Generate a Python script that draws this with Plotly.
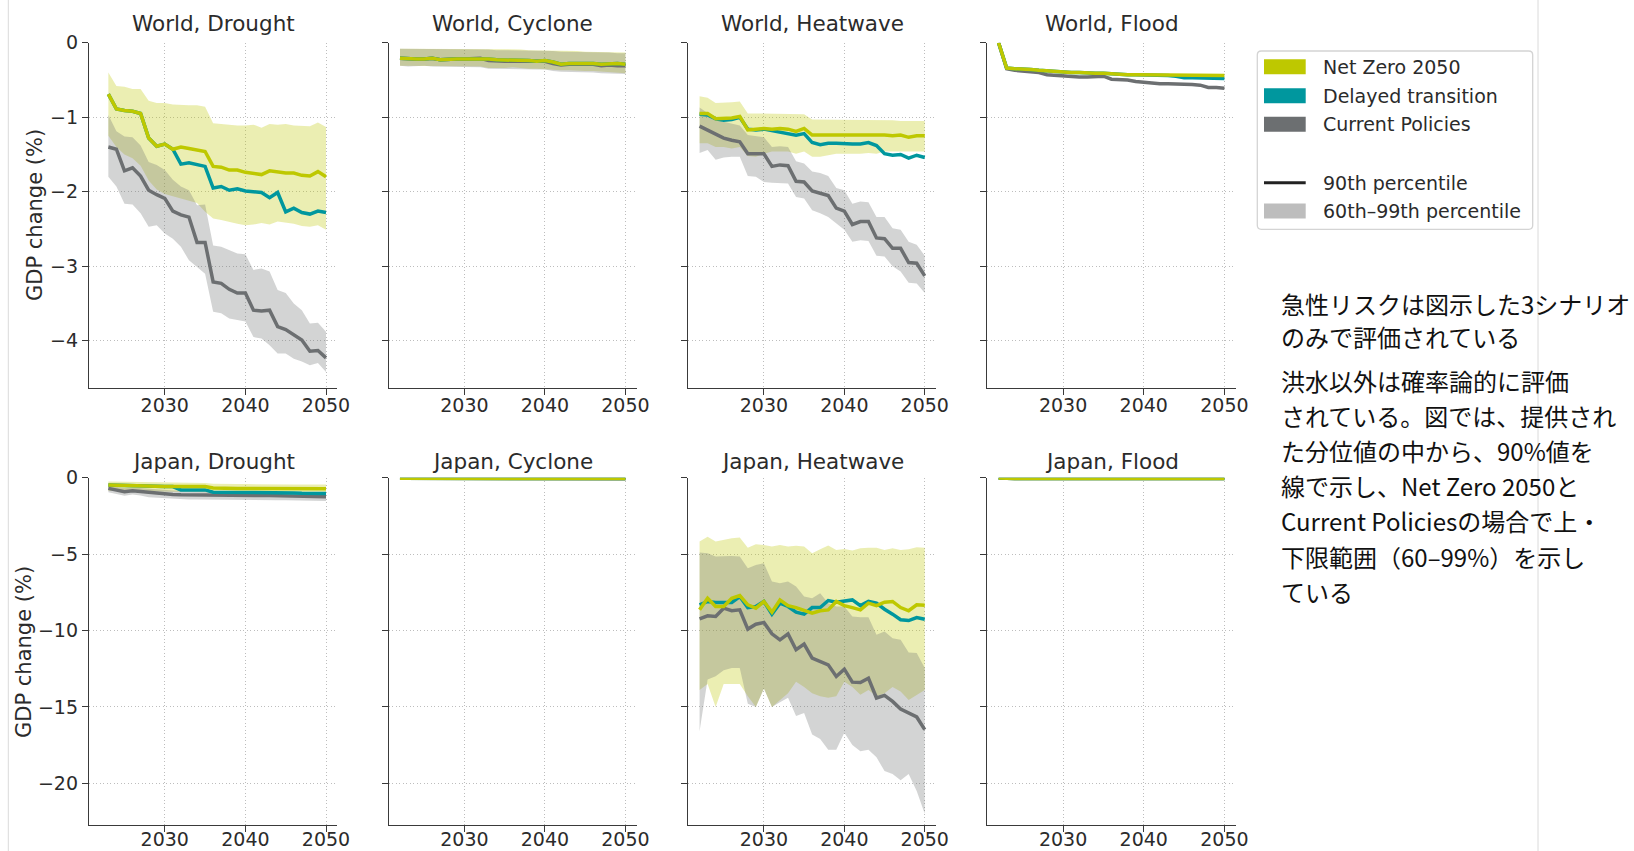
import plotly.graph_objects as go

W, H = 1634, 851

# ---------------- data ----------------
years_full = [2022, 2023, 2024, 2025, 2026, 2027, 2028, 2029, 2030, 2031, 2032, 2033, 2034, 2035,
              2036, 2037, 2038, 2039, 2040, 2041, 2042, 2043, 2044, 2045, 2046, 2047, 2048, 2049, 2050]
years_late = years_full[1:]

x_ticks = [2030, 2040, 2050]
y_ticks_top = [0, -1, -2, -3, -4]
y_ticks_bottom = [0, -5, -10, -15, -20]
y_tick_text_top = ["0", "\u22121", "\u22122", "\u22123", "\u22124"]
y_tick_text_bottom = ["0", "\u22125", "\u221210", "\u221215", "\u221220"]

# World, Drought (2023-2050)
wd_nz = [-0.69, -0.89, -0.91, -0.92, -0.95, -1.28, -1.39, -1.36, -1.43, -1.40, -1.42, -1.44, -1.46, -1.66,
         -1.67, -1.71, -1.71, -1.74, -1.75, -1.77, -1.72, -1.74, -1.75, -1.75, -1.78, -1.79, -1.73, -1.80]
wd_dt = [-0.69, -0.89, -0.91, -0.92, -0.95, -1.28, -1.39, -1.36, -1.43, -1.63, -1.61, -1.63, -1.66, -1.95,
         -1.93, -1.98, -1.96, -1.99, -2.00, -2.01, -2.08, -2.01, -2.27, -2.22, -2.28, -2.30, -2.26, -2.28]
wd_cp = [-1.40, -1.43, -1.72, -1.68, -1.79, -1.98, -2.04, -2.09, -2.26, -2.31, -2.34, -2.68, -2.68, -3.21,
         -3.23, -3.31, -3.36, -3.36, -3.59, -3.60, -3.59, -3.81, -3.85, -3.92, -3.99, -4.14, -4.13, -4.23]
wd_nz_hi = [-0.40, -0.58, -0.59, -0.62, -0.62, -0.78, -0.81, -0.81, -0.83, -0.84, -0.84, -0.84, -0.86, -1.08,
            -1.09, -1.11, -1.11, -1.11, -1.10, -1.14, -1.09, -1.10, -1.09, -1.11, -1.11, -1.12, -1.07, -1.13]
wd_nz_lo = [-1.25, -1.40, -1.50, -1.55, -1.65, -1.85, -1.97, -2.03, -2.06, -2.08, -2.12, -2.15, -2.27, -2.36,
            -2.38, -2.40, -2.43, -2.45, -2.44, -2.42, -2.44, -2.40, -2.42, -2.43, -2.46, -2.47, -2.45, -2.51]
wd_cp_hi = [-0.97, -1.19, -1.26, -1.27, -1.38, -1.60, -1.64, -1.71, -1.84, -1.93, -1.98, -2.18, -2.17, -2.72,
            -2.74, -2.78, -2.83, -2.84, -3.05, -3.03, -3.07, -3.32, -3.36, -3.50, -3.59, -3.77, -3.76, -3.88]
wd_cp_lo = [-1.80, -1.93, -2.16, -2.17, -2.29, -2.47, -2.45, -2.56, -2.63, -2.74, -2.92, -3.01, -3.10, -3.61,
            -3.63, -3.70, -3.72, -3.74, -3.95, -3.97, -4.06, -4.17, -4.17, -4.24, -4.28, -4.33, -4.30, -4.42]

# World, Cyclone (2022-2050)
wc_nz = [-0.21, -0.22, -0.22, -0.22, -0.21, -0.23, -0.22, -0.22, -0.22, -0.22, -0.21, -0.22, -0.23, -0.23, -0.24,
         -0.24, -0.24, -0.25, -0.24, -0.26, -0.29, -0.28, -0.28, -0.27, -0.28, -0.29, -0.28, -0.28, -0.29]
wc_dt = [-0.21, -0.22, -0.22, -0.22, -0.21, -0.23, -0.22, -0.22, -0.22, -0.22, -0.21, -0.22, -0.23, -0.23, -0.24,
         -0.24, -0.24, -0.25, -0.24, -0.26, -0.29, -0.28, -0.28, -0.27, -0.28, -0.29, -0.28, -0.28, -0.29]
wc_cp = [-0.21, -0.22, -0.22, -0.22, -0.21, -0.23, -0.22, -0.22, -0.22, -0.22, -0.21, -0.24, -0.25, -0.25, -0.25,
         -0.25, -0.25, -0.26, -0.25, -0.28, -0.30, -0.29, -0.29, -0.29, -0.29, -0.31, -0.30, -0.31, -0.31]
wc_nz_hi = [-0.08, -0.08, -0.08, -0.08, -0.08, -0.08, -0.08, -0.08, -0.08, -0.08, -0.08, -0.09, -0.09, -0.09, -0.09,
            -0.09, -0.10, -0.10, -0.10, -0.11, -0.11, -0.11, -0.11, -0.12, -0.12, -0.12, -0.13, -0.13, -0.13]
wc_nz_lo = [-0.31, -0.32, -0.31, -0.31, -0.31, -0.32, -0.31, -0.32, -0.32, -0.32, -0.32, -0.34, -0.34, -0.34, -0.33,
            -0.34, -0.35, -0.35, -0.35, -0.36, -0.37, -0.37, -0.37, -0.38, -0.38, -0.39, -0.40, -0.40, -0.41]
wc_cp_hi = [-0.08, -0.08, -0.08, -0.08, -0.08, -0.08, -0.08, -0.09, -0.09, -0.09, -0.09, -0.09, -0.10, -0.10, -0.10,
            -0.10, -0.10, -0.11, -0.11, -0.11, -0.12, -0.12, -0.12, -0.12, -0.13, -0.13, -0.13, -0.14, -0.14]
wc_cp_lo = [-0.31, -0.32, -0.32, -0.31, -0.32, -0.32, -0.32, -0.32, -0.33, -0.33, -0.33, -0.35, -0.35, -0.35, -0.35,
            -0.35, -0.36, -0.36, -0.36, -0.38, -0.39, -0.39, -0.39, -0.40, -0.40, -0.41, -0.41, -0.42, -0.42]

# World, Heatwave (2022-2050)
wh_nz = [-0.95, -0.95, -1.02, -1.02, -1.01, -0.99, -1.17, -1.16, -1.15, -1.16, -1.15, -1.16, -1.19, -1.15, -1.24,
         -1.24, -1.24, -1.23, -1.23, -1.23, -1.23, -1.23, -1.24, -1.24, -1.25, -1.24, -1.27, -1.25, -1.25]
wh_dt = [-0.96, -0.97, -1.02, -1.04, -1.03, -1.00, -1.16, -1.17, -1.16, -1.18, -1.21, -1.22, -1.24, -1.22, -1.34,
         -1.37, -1.35, -1.35, -1.36, -1.36, -1.36, -1.34, -1.38, -1.49, -1.51, -1.50, -1.55, -1.51, -1.54]
wh_cp = [-1.12, -1.17, -1.22, -1.28, -1.31, -1.33, -1.49, -1.49, -1.49, -1.66, -1.64, -1.65, -1.86, -1.87, -1.99,
         -2.02, -2.05, -2.22, -2.26, -2.44, -2.40, -2.40, -2.62, -2.63, -2.76, -2.76, -2.95, -2.96, -3.13]
wh_nz_hi = [-0.72, -0.74, -0.81, -0.81, -0.80, -0.79, -0.95, -0.95, -0.95, -0.95, -0.96, -0.96, -0.96, -0.96, -1.03,
            -1.03, -1.03, -1.04, -1.04, -1.04, -1.04, -1.04, -1.04, -1.04, -1.04, -1.05, -1.05, -1.05, -1.05]
wh_nz_lo = [-1.35, -1.35, -1.40, -1.40, -1.42, -1.40, -1.52, -1.53, -1.49, -1.46, -1.46, -1.46, -1.49, -1.46, -1.53,
            -1.53, -1.51, -1.49, -1.49, -1.49, -1.49, -1.48, -1.49, -1.46, -1.46, -1.46, -1.46, -1.46, -1.46]
wh_cp_hi = [-0.87, -0.95, -1.02, -1.06, -1.08, -1.11, -1.24, -1.26, -1.27, -1.40, -1.39, -1.40, -1.59, -1.62, -1.73,
            -1.75, -1.79, -1.95, -1.98, -2.16, -2.13, -2.14, -2.34, -2.34, -2.49, -2.51, -2.67, -2.71, -2.86]
wh_cp_lo = [-1.48, -1.44, -1.57, -1.54, -1.53, -1.53, -1.79, -1.80, -1.87, -1.88, -1.89, -1.89, -2.07, -2.09, -2.25,
            -2.29, -2.34, -2.43, -2.51, -2.67, -2.65, -2.66, -2.86, -2.87, -3.00, -3.07, -3.22, -3.23, -3.36]

# World, Flood (2022-2050)
wf_nz = [0.00, -0.34, -0.35, -0.35, -0.36, -0.37, -0.38, -0.39, -0.39, -0.40, -0.40, -0.41, -0.41, -0.41, -0.42,
         -0.42, -0.43, -0.43, -0.43, -0.43, -0.44, -0.44, -0.44, -0.44, -0.44, -0.44, -0.44, -0.44, -0.44]
wf_dt = [0.00, -0.34, -0.35, -0.35, -0.36, -0.37, -0.38, -0.39, -0.39, -0.40, -0.40, -0.41, -0.41, -0.41, -0.42,
         -0.42, -0.43, -0.43, -0.43, -0.43, -0.44, -0.44, -0.45, -0.47, -0.47, -0.47, -0.48, -0.48, -0.48]
wf_cp = [0.00, -0.35, -0.37, -0.38, -0.39, -0.40, -0.43, -0.44, -0.44, -0.46, -0.46, -0.46, -0.46, -0.45, -0.49,
         -0.49, -0.50, -0.52, -0.53, -0.55, -0.55, -0.55, -0.55, -0.56, -0.56, -0.57, -0.60, -0.60, -0.61]

# Japan, Drought (2023-2050)
jd_nz = [-0.48, -0.50, -0.52, -0.52, -0.55, -0.55, -0.56, -0.58, -0.58, -0.58, -0.57, -0.56, -0.58, -0.68,
         -0.70, -0.70, -0.70, -0.70, -0.70, -0.70, -0.70, -0.70, -0.70, -0.70, -0.72, -0.72, -0.70, -0.72]
jd_dt = [-0.48, -0.50, -0.52, -0.52, -0.55, -0.55, -0.56, -0.58, -0.58, -0.80, -0.80, -0.80, -0.80, -0.95,
         -0.95, -0.95, -0.95, -0.95, -0.95, -0.95, -0.95, -0.95, -0.95, -1.00, -1.02, -1.02, -1.02, -1.04]
jd_cp = [-0.70, -0.80, -0.92, -0.85, -0.90, -1.00, -1.02, -1.05, -1.10, -1.12, -1.13, -1.13, -1.14, -1.15,
         -1.15, -1.16, -1.16, -1.16, -1.17, -1.17, -1.17, -1.18, -1.18, -1.18, -1.20, -1.22, -1.22, -1.24]
jd_nz_hi = [-0.25, -0.26, -0.27, -0.27, -0.28, -0.30, -0.30, -0.32, -0.32, -0.33, -0.33, -0.33, -0.34, -0.40,
            -0.42, -0.42, -0.42, -0.42, -0.43, -0.43, -0.43, -0.43, -0.44, -0.44, -0.44, -0.45, -0.44, -0.45]
jd_nz_lo = [-0.85, -0.87, -0.90, -0.90, -0.92, -0.93, -0.94, -0.95, -0.95, -0.95, -0.95, -0.95, -0.96, -1.02,
            -1.03, -1.03, -1.03, -1.03, -1.04, -1.04, -1.04, -1.04, -1.05, -1.05, -1.06, -1.06, -1.05, -1.07]
jd_cp_hi = [-0.52, -0.60, -0.68, -0.64, -0.68, -0.75, -0.77, -0.79, -0.83, -0.85, -0.86, -0.86, -0.87, -0.88,
            -0.88, -0.89, -0.89, -0.89, -0.90, -0.90, -0.90, -0.91, -0.91, -0.91, -0.93, -0.94, -0.94, -0.96]
jd_cp_lo = [-0.95, -1.05, -1.18, -1.10, -1.16, -1.28, -1.30, -1.33, -1.38, -1.40, -1.42, -1.42, -1.43, -1.44,
            -1.44, -1.45, -1.45, -1.45, -1.46, -1.46, -1.46, -1.47, -1.47, -1.47, -1.49, -1.51, -1.51, -1.53]

# Japan, Cyclone (2022-2050)
jc_nz = [-0.04, -0.04, -0.04, -0.04, -0.04, -0.04, -0.04, -0.04, -0.04, -0.04, -0.04, -0.04, -0.04, -0.04, -0.04,
         -0.04, -0.04, -0.04, -0.04, -0.05, -0.05, -0.05, -0.05, -0.05, -0.05, -0.05, -0.05, -0.05, -0.05]
jc_dt = [-0.04, -0.04, -0.04, -0.04, -0.04, -0.04, -0.04, -0.04, -0.04, -0.04, -0.04, -0.04, -0.04, -0.04, -0.04,
         -0.04, -0.04, -0.04, -0.04, -0.05, -0.05, -0.05, -0.05, -0.05, -0.05, -0.05, -0.05, -0.05, -0.05]
jc_cp = [-0.04, -0.04, -0.04, -0.04, -0.04, -0.04, -0.04, -0.04, -0.04, -0.04, -0.04, -0.04, -0.04, -0.05, -0.05,
         -0.05, -0.05, -0.05, -0.05, -0.06, -0.07, -0.06, -0.06, -0.06, -0.06, -0.06, -0.07, -0.07, -0.07]
jc_nz_hi = [-0.01, -0.01, -0.01, -0.01, -0.01, -0.01, -0.01, -0.01, -0.01, -0.01, -0.01, -0.01, -0.01, -0.01, -0.01,
            -0.01, -0.01, -0.01, -0.01, -0.01, -0.01, -0.01, -0.01, -0.01, -0.01, -0.01, -0.01, -0.01, -0.01]
jc_nz_lo = [-0.08, -0.08, -0.08, -0.08, -0.08, -0.08, -0.08, -0.08, -0.08, -0.08, -0.08, -0.08, -0.08, -0.08, -0.08,
            -0.08, -0.08, -0.08, -0.08, -0.09, -0.09, -0.09, -0.09, -0.09, -0.09, -0.09, -0.09, -0.09, -0.09]
jc_cp_hi = [-0.01, -0.01, -0.01, -0.01, -0.01, -0.01, -0.01, -0.01, -0.01, -0.01, -0.01, -0.01, -0.01, -0.01, -0.01,
            -0.01, -0.01, -0.01, -0.01, -0.02, -0.02, -0.02, -0.02, -0.02, -0.02, -0.02, -0.02, -0.02, -0.02]
jc_cp_lo = [-0.08, -0.08, -0.08, -0.08, -0.08, -0.08, -0.08, -0.08, -0.08, -0.08, -0.08, -0.08, -0.08, -0.09, -0.09,
            -0.09, -0.09, -0.09, -0.09, -0.10, -0.11, -0.10, -0.10, -0.10, -0.10, -0.10, -0.11, -0.11, -0.11]

# Japan, Heatwave (2022-2050)
jh_nz = [-8.65, -7.89, -8.43, -8.43, -7.89, -7.71, -8.32, -8.54, -8.10, -8.80, -8.00, -8.37, -8.50, -8.69, -8.87,
         -8.71, -8.65, -8.10, -8.37, -8.50, -8.65, -8.21, -8.37, -8.15, -8.10, -8.50, -8.71, -8.32, -8.34]
jh_dt = [-8.32, -8.10, -8.17, -8.17, -8.17, -7.78, -8.50, -8.43, -8.10, -8.93, -8.21, -8.43, -8.80, -8.93, -8.50,
         -8.50, -8.04, -8.15, -8.10, -8.00, -8.37, -8.10, -8.21, -8.61, -8.93, -9.30, -9.35, -9.15, -9.26]
jh_cp = [-9.24, -9.04, -9.08, -8.54, -8.71, -8.65, -9.91, -9.59, -9.48, -10.22, -10.61, -10.22, -11.26, -10.89,
         -11.81, -12.03, -12.25, -13.01, -12.53, -13.38, -13.40, -13.12, -14.42, -14.25, -14.64, -15.14, -15.40,
         -15.66, -16.49]
jh_nz_hi = [-4.18, -3.86, -4.18, -4.07, -3.96, -3.92, -4.58, -4.36, -4.40, -4.51, -4.40, -4.51, -4.46, -4.51, -4.94,
            -4.68, -4.44, -4.73, -4.66, -4.77, -4.62, -4.58, -4.58, -4.73, -4.62, -4.73, -4.68, -4.55, -4.58]
jh_nz_lo = [-13.90, -13.50, -15.00, -13.50, -13.50, -13.50, -14.30, -15.00, -13.80, -15.00, -14.55, -14.10, -13.35,
            -13.70, -14.10, -14.30, -14.40, -14.30, -13.35, -13.70, -14.20, -13.90, -14.30, -14.10, -13.70, -14.00,
            -14.55, -14.20, -13.90]
jh_cp_hi = [-4.90, -4.95, -5.16, -5.12, -5.12, -5.16, -5.93, -5.71, -5.60, -6.80, -6.91, -6.80, -7.12, -7.78, -7.89,
            -7.56, -8.21, -8.43, -8.43, -9.08, -9.13, -9.13, -10.28, -10.07, -10.50, -10.61, -11.44, -11.48, -12.46]
jh_cp_lo = [-16.60, -13.20, -13.00, -12.60, -12.45, -12.45, -14.80, -15.00, -13.80, -15.00, -14.70, -14.40, -15.60,
            -15.40, -16.80, -17.10, -17.80, -17.80, -16.70, -17.50, -17.90, -17.80, -18.30, -19.20, -19.40, -19.80,
            -19.40, -20.50, -22.00]

# Japan, Flood (2022-2050)
jf_nz = [-0.02, -0.05, -0.05, -0.05, -0.05, -0.05, -0.05, -0.05, -0.05, -0.05, -0.05, -0.05, -0.05, -0.05, -0.05,
         -0.05, -0.05, -0.05, -0.05, -0.05, -0.05, -0.05, -0.05, -0.05, -0.05, -0.05, -0.05, -0.05, -0.05]
jf_dt = [-0.02, -0.05, -0.05, -0.05, -0.05, -0.05, -0.05, -0.05, -0.05, -0.05, -0.05, -0.05, -0.05, -0.05, -0.05,
         -0.05, -0.05, -0.05, -0.05, -0.05, -0.05, -0.05, -0.05, -0.05, -0.05, -0.05, -0.05, -0.05, -0.05]
jf_cp = [-0.02, -0.06, -0.06, -0.06, -0.06, -0.06, -0.06, -0.06, -0.06, -0.06, -0.06, -0.06, -0.06, -0.06, -0.06,
         -0.06, -0.06, -0.06, -0.06, -0.06, -0.06, -0.06, -0.06, -0.06, -0.06, -0.06, -0.06, -0.06, -0.06]

panel_titles = ["World, Drought", "World, Cyclone", "World, Heatwave", "World, Flood",
                "Japan, Drought", "Japan, Cyclone", "Japan, Heatwave", "Japan, Flood"]
scenario_names = ["Net Zero 2050", "Delayed transition", "Current Policies"]
legend_extra = ["90th percentile", "60th\u201399th percentile"]
y_label = "GDP change (%)"
note_lines = ["急性リスクは図示した3シナリオ", "のみで評価されている",
              "洪水以外は確率論的に評価", "されている。図では、提供され",
              "た分位値の中から、90%値を", "線で示し、Net Zero 2050と",
              "Current Policiesの場合で上・", "下限範囲（60–99%）を示し", "ている"]

panels = [
    (years_late, wd_nz, wd_dt, wd_cp, wd_nz_hi, wd_nz_lo, wd_cp_hi, wd_cp_lo),
    (years_full, wc_nz, wc_dt, wc_cp, wc_nz_hi, wc_nz_lo, wc_cp_hi, wc_cp_lo),
    (years_full, wh_nz, wh_dt, wh_cp, wh_nz_hi, wh_nz_lo, wh_cp_hi, wh_cp_lo),
    (years_full, wf_nz, wf_dt, wf_cp, None, None, None, None),
    (years_late, jd_nz, jd_dt, jd_cp, jd_nz_hi, jd_nz_lo, jd_cp_hi, jd_cp_lo),
    (years_full, jc_nz, jc_dt, jc_cp, jc_nz_hi, jc_nz_lo, jc_cp_hi, jc_cp_lo),
    (years_full, jh_nz, jh_dt, jh_cp, jh_nz_hi, jh_nz_lo, jh_cp_hi, jh_cp_lo),
    (years_full, jf_nz, jf_dt, jf_cp, None, None, None, None),
]

# ---------------- style ----------------
NZ_C = "#BEC800"
DT_C = "#00979E"
CP_C = "#6C6F71"
NZ_BAND = "rgba(190,200,0,0.30)"
CP_BAND = "rgba(108,111,113,0.30)"
TXT = "#2b2b2b"
AX = "#3a3a3a"
FONT = "DejaVu Sans"

col_left = [89.0, 388.7, 688.3, 987.3]
col_right = [337.3, 636.7, 936.0, 1235.7]
row_top = [42.7, 477.7]
row_bottom = [387.7, 825.0]
x_label_standoff = [-6, -9]
x_range = [2020.6, 2051.4]
y_ranges = [[-4.63, 0], [-22.73, 0]]


def px(p):
    return p / W


def py(p):
    return 1 - p / H


fig = go.Figure()
layout = dict(width=W, height=H, margin=dict(l=0, r=0, t=0, b=0, pad=0, autoexpand=False), autosize=False,
              paper_bgcolor="white", plot_bgcolor="white", showlegend=False,
              font=dict(family=FONT, color=TXT))

for i, (yrs, nz, dt, cp, nzh, nzl, cph, cpl) in enumerate(panels):
    r, c = divmod(i, 4)
    sfx = "" if i == 0 else str(i + 1)
    xa, ya = "x" + sfx, "y" + sfx
    if nzh is not None:
        for hi, lo, col in ((nzh, nzl, NZ_BAND), (cph, cpl, CP_BAND)):
            fig.add_trace(go.Scatter(x=list(yrs) + list(yrs)[::-1], y=list(hi) + list(lo)[::-1],
                                     mode="lines", fill="toself", fillcolor=col,
                                     line=dict(width=0), hoverinfo="skip", xaxis=xa, yaxis=ya))
    for vals, col in ((cp, CP_C), (dt, DT_C), (nz, NZ_C)):
        fig.add_trace(go.Scatter(x=yrs, y=vals, mode="lines", line=dict(color=col, width=3.5),
                                 xaxis=xa, yaxis=ya))
    common = dict(showline=True, linecolor=AX, linewidth=1.3, ticks="outside", ticklen=6,
                  tickwidth=1.3, tickcolor=AX, showgrid=True, gridcolor="#bdbdbd", griddash="1px,2.5px",
                  gridwidth=1, zeroline=False, automargin=False,
                  tickfont=dict(family=FONT, size=19, color=TXT))
    layout["xaxis" + sfx] = dict(common, domain=[px(col_left[c]), px(col_right[c])], range=x_range,
                                 anchor=ya, tickvals=x_ticks, ticktext=[str(v) for v in x_ticks],
                                 ticklabelstandoff=x_label_standoff[r])
    layout["yaxis" + sfx] = dict(common, domain=[py(row_bottom[r]), py(row_top[r])], range=y_ranges[r],
                                 anchor=xa, tickvals=y_ticks_top if r == 0 else y_ticks_bottom,
                                 ticktext=y_tick_text_top if r == 0 else y_tick_text_bottom,
                                 showticklabels=(c == 0))

annotations = []
shapes = []
title_y = [23.3, 461.7]
for i, t in enumerate(panel_titles):
    r, c = divmod(i, 4)
    annotations.append(dict(text=t, xref="paper", yref="paper",
                            x=px((col_left[c] + col_right[c]) / 2), y=py(title_y[r]),
                            xanchor="center", yanchor="middle", showarrow=False,
                            font=dict(family=FONT, size=21.5, color=TXT)))
for xp_, yp_ in ((35.0, 215.0), (23.3, 651.7)):
    annotations.append(dict(text=y_label, xref="paper", yref="paper", x=px(xp_), y=py(yp_),
                            xanchor="center", yanchor="middle", textangle=-90, showarrow=False,
                            font=dict(family=FONT, size=21, color=TXT)))

# legend (drawn manually)
lx0, lx1, ly0, ly1, rad = 1257.3, 1532.7, 51.0, 229.3, 4
shapes.append(dict(type="path", xref="paper", yref="paper",
                   path=(f"M {px(lx0+rad)} {py(ly0)} L {px(lx1-rad)} {py(ly0)} "
                         f"Q {px(lx1)} {py(ly0)} {px(lx1)} {py(ly0+rad)} L {px(lx1)} {py(ly1-rad)} "
                         f"Q {px(lx1)} {py(ly1)} {px(lx1-rad)} {py(ly1)} L {px(lx0+rad)} {py(ly1)} "
                         f"Q {px(lx0)} {py(ly1)} {px(lx0)} {py(ly1-rad)} L {px(lx0)} {py(ly0+rad)} "
                         f"Q {px(lx0)} {py(ly0)} {px(lx0+rad)} {py(ly0)} Z"),
                   line=dict(color="#d4d4d4", width=1.3), fillcolor="white"))
entries = [(scenario_names[0], "patch", NZ_C, 66.7), (scenario_names[1], "patch", DT_C, 95.7),
           (scenario_names[2], "patch", CP_C, 124.3), (legend_extra[0], "line", "#222222", 182.7),
           (legend_extra[1], "patch", "#bdbdbd", 211.0)]
for label, kind, col, yc in entries:
    if kind == "patch":
        shapes.append(dict(type="rect", xref="paper", yref="paper", x0=px(1264), x1=px(1305.7),
                           y0=py(yc + 7.5), y1=py(yc - 7.5), line=dict(width=0), fillcolor=col))
    else:
        shapes.append(dict(type="line", xref="paper", yref="paper", x0=px(1264), x1=px(1305.7),
                           y0=py(yc), y1=py(yc), line=dict(color=col, width=3)))
    annotations.append(dict(text=label, xref="paper", yref="paper", x=px(1321), y=py(yc),
                            xanchor="left", yanchor="middle", showarrow=False,
                            font=dict(family=FONT, size=19, color=TXT)))

# page border lines
for xl in (8.3, 1538.0):
    shapes.append(dict(type="line", xref="paper", yref="paper", x0=px(xl), x1=px(xl), y0=0, y1=1,
                       line=dict(color="#dadada", width=1)))

# note text, one annotation per line
note_y = [303.5, 336.5, 380.5, 415.6, 450.7, 485.8, 520.9, 556.0, 591.1]
for t, yc in zip(note_lines, note_y):
    annotations.append(dict(text=t, xref="paper", yref="paper", x=px(1279.0), y=py(yc),
                            xanchor="left", yanchor="middle", align="left", showarrow=False,
                            font=dict(family="Noto Sans CJK JP", size=24, color="#111111")))

layout["annotations"] = annotations
layout["shapes"] = shapes
fig.update_layout(**layout)
fig.write_html("out.html")
